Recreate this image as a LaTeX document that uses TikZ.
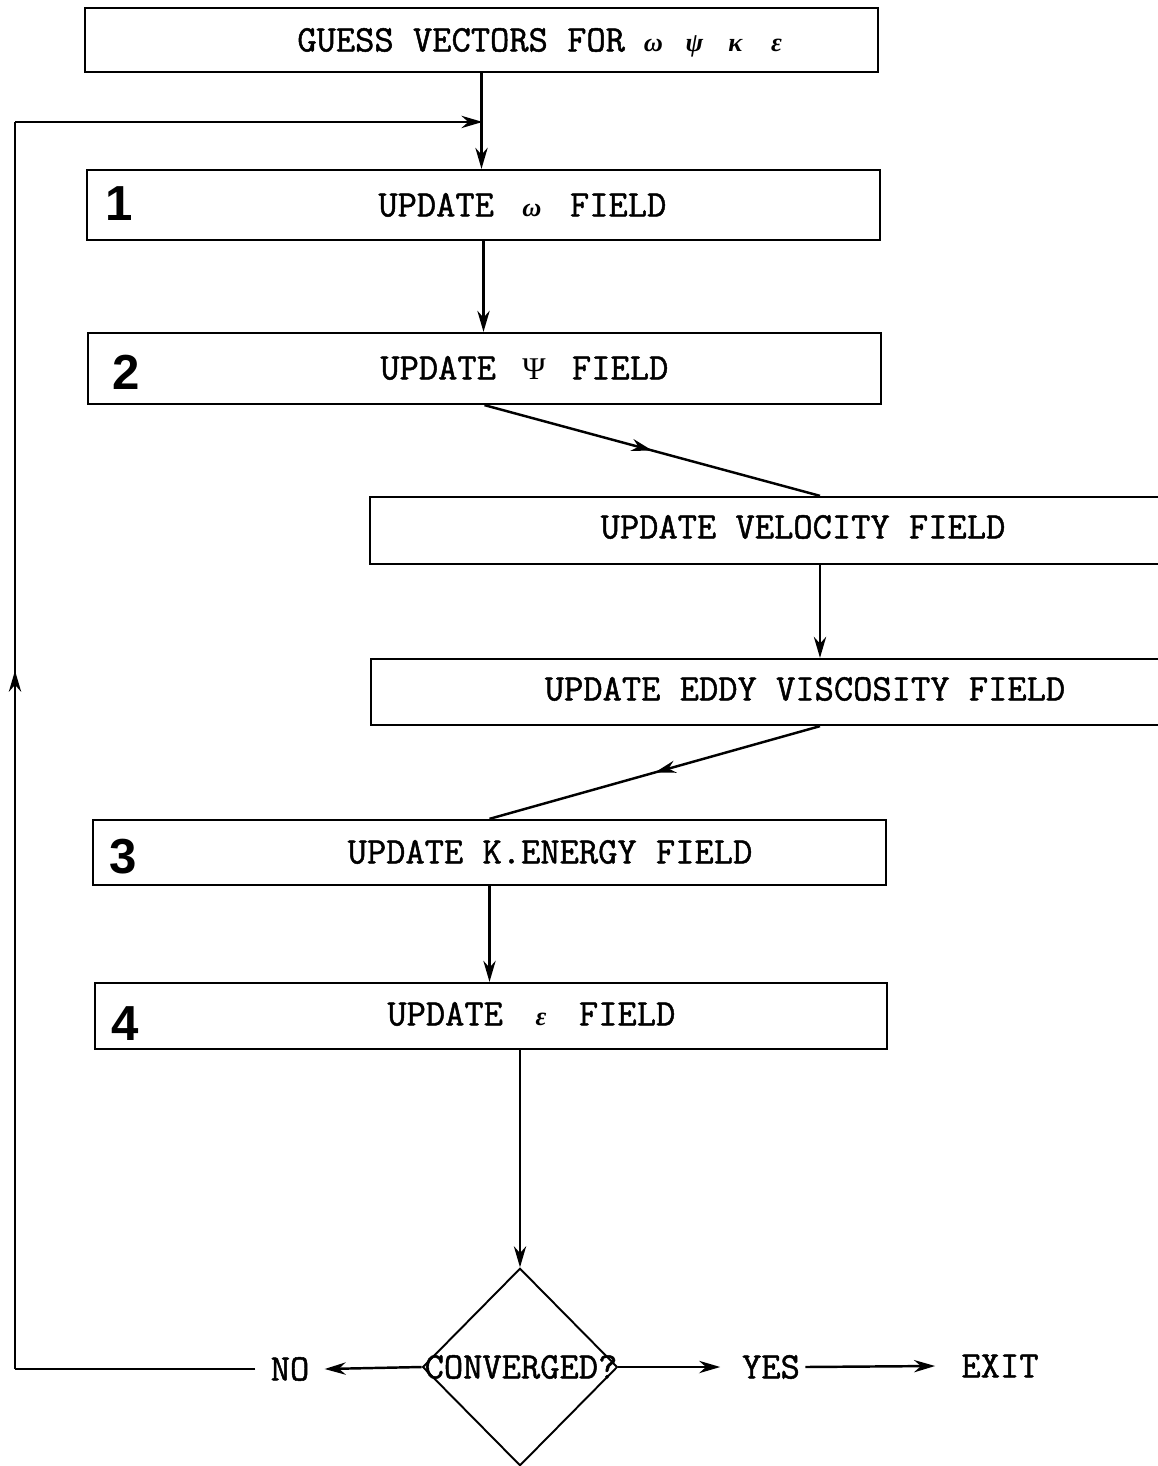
\documentclass[tikz,border=0pt]{standalone}
\usepackage{fontspec}
\newfontfamily\tw{Latin Modern Mono}[FakeBold=1.3]
\newfontfamily\numfont{Liberation Sans}
\newfontfamily\gkfont{Liberation Serif}
\usetikzlibrary{shapes.geometric, arrows.meta, decorations.markings, calc}

\tikzset{
  box/.style={draw, line width=1.3pt, inner sep=0pt},
  lbl/.style={font=\tw\fontsize{21.3}{23}\selectfont, inner sep=0pt, text height=13pt, text depth=0pt},
  num/.style={font=\numfont\bfseries\fontsize{28}{30}\selectfont, inner sep=0pt},
  flow/.style={line width=1.4pt, -{Stealth[length=12pt, width=7pt]}},
  line/.style={line width=1.4pt},
  midflow/.style={line width=1.4pt, postaction={decorate},
    decoration={markings, mark=at position #1 with {\arrow{Stealth[length=12pt, width=7pt]}}}},
  midflow/.default=0.5
}
% a Greek letter centred in a slot of the given width
\newcommand{\gk}[2]{\makebox[#1][c]{\gkfont\bfseries\itshape\fontsize{15}{16}\selectfont #2}}

\begin{document}
\begin{tikzpicture}[x=0.02cm, y=-0.02cm]
\useasboundingbox (0,0) rectangle (1157,1466);

% process boxes
\node[box, minimum width=15.86cm, minimum height=1.28cm] (guess) at (481.5,40) {};
\node[box, minimum width=15.86cm, minimum height=1.40cm] (upw)   at (483.5,205) {};
\node[box, minimum width=15.86cm, minimum height=1.42cm] (uppsi) at (484.5,368.5) {};
\node[box, minimum width=15.90cm, minimum height=1.34cm] (vel)   at (767.5,530.5) {};
\node[box, minimum width=15.88cm, minimum height=1.32cm] (eddy)  at (768,692) {};
\node[box, minimum width=15.86cm, minimum height=1.30cm] (upk)   at (489.5,852.5) {};
\node[box, minimum width=15.84cm, minimum height=1.32cm] (upe)   at (491,1016) {};

% decision
\node[draw, line width=1.1pt, diamond, minimum width=3.9cm, minimum height=3.95cm, inner sep=0pt] (conv) at (520,1367) {};

% box texts
\node[lbl, anchor=west] (tguess) at (297,40)
  {GUESS VECTORS FOR\hspace{0.16cm}\gk{0.82cm}{ω}\gk{0.82cm}{ψ}\gk{0.82cm}{κ}\gk{0.82cm}{ε}};
\node[lbl, anchor=west] (tw)   at (378,205)  {UPDATE\gk{1.52cm}{ω}FIELD};
\node[lbl, anchor=west] (tpsi) at (380,368)  {UPDATE\makebox[1.52cm][c]{\gkfont\fontsize{18}{19}\selectfont Ψ}FIELD};
\node[lbl] (tvel)  at (803,527)  {UPDATE VELOCITY FIELD};
\node[lbl] (teddy) at (805,689)  {UPDATE EDDY VISCOSITY FIELD};
\node[lbl] (tk)    at (550,852)  {UPDATE K.ENERGY FIELD};
\node[lbl, anchor=west] (te)   at (387,1014) {UPDATE\gk{1.52cm}{ε}FIELD};

% step numbers
\node[num] (n1) at (119,204)  {1};
\node[num] (n2) at (126,372)  {2};
\node[num] (n3) at (123,857)  {3};
\node[num] (n4) at (125,1024) {4};

% decision texts
\node[lbl] (tconv) at (521,1367) {CONVERGED?};
\node[lbl] (no)    at (290,1369) {NO};
\node[lbl] (yes)   at (771,1367) {YES};
\node[lbl] (exit)  at (1000,1366) {EXIT};

% connectors
\coordinate (join) at ($(guess.south)!0.51!(upw.north)$);
\coordinate (loopx) at (15,0);
\draw[flow] (guess.south) -- (guess.south |- upw.north);
\draw[flow] (upw.south) -- (upw.south |- uppsi.north);
\draw[midflow] (uppsi.south) -- ([xshift=1.05cm]vel.north);
\draw[flow] ([xshift=1.05cm]vel.south) -- ([xshift=1.05cm]vel.south |- eddy.north);
\draw[midflow] ([xshift=1.04cm]eddy.south) -- (upk.north);
\draw[flow] (upk.south) -- (upk.south |- upe.north);
\draw[flow] (conv.north |- upe.south) -- (conv.north);

\draw[flow] (conv.west) -- ([xshift=0.3cm]no.east);
\draw[flow] (conv.east) -- ([xshift=-0.43cm]yes.west);
\draw[flow] ([xshift=0.1cm]yes.east) -- ([xshift=-0.52cm]exit.west);

% return loop
\draw[line] ([xshift=-0.3cm]no.west) -- (no.west -| loopx);
\draw[midflow=0.56] (no.west -| loopx) -- (loopx |- join);
\draw[flow] (loopx |- join) -- (join);
\end{tikzpicture}
\end{document}
